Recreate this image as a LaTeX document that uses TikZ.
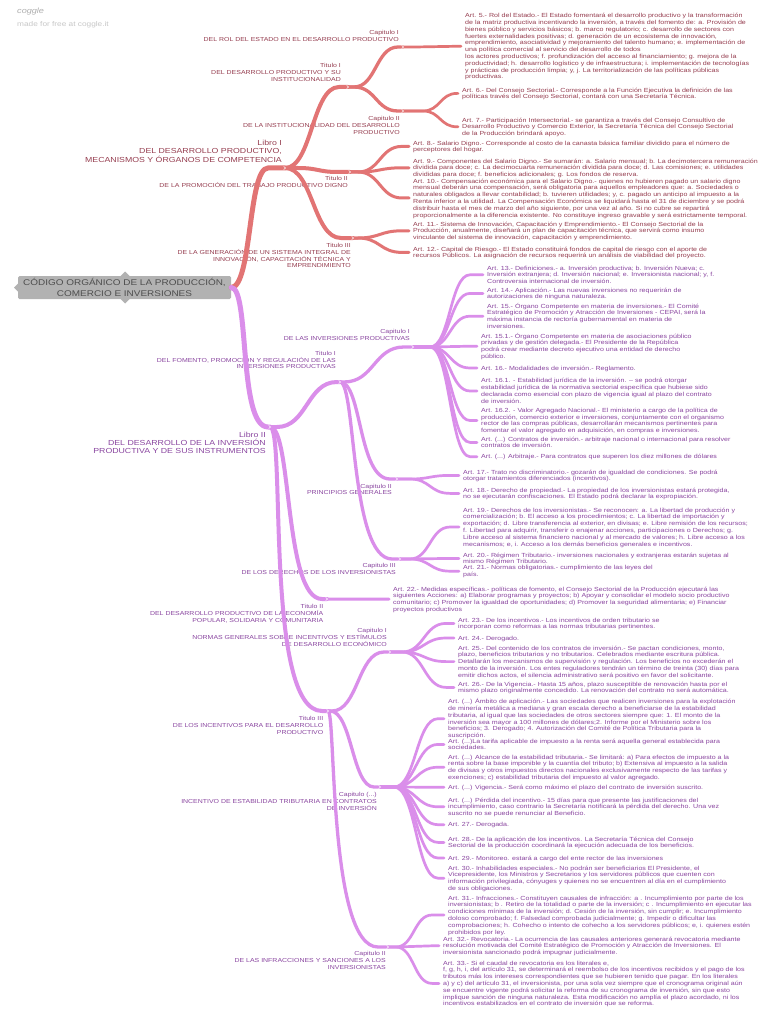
\documentclass[tikz,border=0pt]{standalone}
\usepackage{fontspec}
\usetikzlibrary{calc}
\newfontfamily\cf{Liberation Sans}[FakeStretch=1.2]
\definecolor{redline}{RGB}{226,116,116}
\definecolor{redtext}{RGB}{150,62,80}
\definecolor{purline}{RGB}{218,142,234}
\definecolor{purtext}{RGB}{138,70,160}
\definecolor{rootfill}{RGB}{178,178,178}
\definecolor{roottext}{RGB}{78,78,78}
\definecolor{logogray}{RGB}{175,175,175}
\definecolor{madegray}{RGB}{200,200,200}
\newcommand\artfont{\cf\fontsize{5.9pt}{6.8pt}\selectfont\lineskiplimit=-5pt\relax}
\newcommand\labfont{\cf\fontsize{5.8pt}{6.9pt}\selectfont\lineskiplimit=-5pt\relax}
\newcommand\bigfont{\cf\fontsize{7.3pt}{8.3pt}\selectfont\lineskiplimit=-5pt\relax}
\newcommand\rootfont{\cf\fontsize{8.3pt}{10.3pt}\selectfont}
\newcommand\ntx[1]{\rule{0pt}{.95em}#1\rule[-.25em]{0pt}{0pt}}
% connector: style, from, to, mid x, half width
\newcommand\conn[5]{\draw[#1] let \p1=(#2), \p2=(#3) in (\p1) -- ({(#4-#5)*1pt},\y1) .. controls ({#4*1pt},\y1) and ({#4*1pt},\y2) .. ({(#4+#5)*1pt},\y2) -- (\p2);}
% connector: style, from, to, control x 1, control x 2, end x of curve
\newcommand\connc[6]{\draw[#1] let \p1=(#2), \p2=(#3) in (\p1) .. controls ({#4*1pt},\y1) and ({#5*1pt},\y2) .. ({#6*1pt},\y2) -- (\p2);}
% small white chevron on a branch point
\newcommand\chev[1]{\draw[white,line width=0.55pt,line cap=round,line join=round] ($(#1)+(-1.3,-1.5)$) -- ($(#1)+(0.6,0)$) -- ($(#1)+(-1.3,1.5)$);}
\begin{document}
\begin{tikzpicture}[x=1pt,y=-1pt,
  art/.style={anchor=west,inner sep=0pt,align=left,font=\artfont},
  lab/.style={anchor=east,inner sep=0pt,align=right,font=\labfont},
  libro/.style={anchor=east,inner sep=0pt,align=right,font=\bigfont},
  rtx/.style={text=redtext}, ptx/.style={text=purtext},
  r1/.style={draw=redline,line width=5pt,line cap=round},
  r2/.style={draw=redline,line width=4pt,line cap=round},
  r3/.style={draw=redline,line width=3.3pt,line cap=round},
  r3e/.style={draw=redline,line width=3pt,line cap=round,shorten >=4pt},
  r4/.style={draw=redline,line width=2.7pt,line cap=round,shorten >=4pt},
  p1/.style={draw=purline,line width=5pt,line cap=round},
  p2/.style={draw=purline,line width=4pt,line cap=round},
  p3/.style={draw=purline,line width=3.3pt,line cap=round},
  p3e/.style={draw=purline,line width=3pt,line cap=round,shorten >=4pt},
  p4/.style={draw=purline,line width=2.7pt,line cap=round,shorten >=4pt},
  rootbox/.style={fill=rootfill,text=roottext,font=\rootfont,align=center,inner sep=0pt,minimum width=213pt,minimum height=23pt,rounded corners=1.5pt}
]
\useasboundingbox (0,0) rectangle (768,1024);
\fill[white] (0,0) rectangle (768,1024);

% logo
\node[anchor=west,inner sep=0pt,text=logogray,font=\cf\fontsize{7.6pt}{8pt}\selectfont\itshape] (logo) at (17,12) {coggle};
\node[anchor=west,inner sep=0pt,text=madegray,font=\cf\fontsize{6.9pt}{8pt}\selectfont] (made) at (17,25) {made for free at coggle.it};

% root
\fill[rootfill] (120,276.5) -- (125,271.5) -- (130,276.5) -- cycle;
\fill[rootfill] (120,298.5) -- (125,303.5) -- (130,298.5) -- cycle;
\fill[rootfill] (18.5,283) -- (14,287.5) -- (18.5,292) -- cycle;
\node[rootbox] (root) at (124.5,287.5) {CÓDIGO ORGÁNICO DE LA PRODUCCIÓN,\\COMERCIO E INVERSIONES};

% branch points
\coordinate (L1) at (285,168);
\coordinate (T1) at (348,87);
\coordinate (T2) at (350,172);
\coordinate (T3) at (353,238);
\coordinate (C1) at (403,47);
\coordinate (C2) at (403,111);
\coordinate (L2) at (270,427);
\coordinate (PT1) at (340,382);
\coordinate (PT2) at (327,599);
\coordinate (PT3) at (328,711);
\coordinate (PC1) at (413,347);
\coordinate (PC2) at (397,479);
\coordinate (PC3) at (400,559);
\coordinate (PC4) at (390,652);
\coordinate (PC5) at (380,787);
\coordinate (PC6) at (388,947);

% ---------- red labels ----------
\node[lab,rtx] (lC1) at (399,35.9) {\ntx{Capitulo I\\DEL ROL DEL ESTADO EN EL DESARROLLO PRODUCTIVO}};
\node[lab,rtx] (lT1) at (341,72.4) {\ntx{Titulo I\\DEL DESARROLLO PRODUCTIVO Y SU\\INSTITUCIONALIDAD}};
\node[lab,rtx] (lC2) at (400,125.3) {\ntx{Capitulo II\\DE LA INSTITUCIONALIDAD DEL DESARROLLO\\PRODUCTIVO}};
\node[libro,rtx] (lL1) at (282,151.4) {\ntx{Libro I\\DEL DESARROLLO PRODUCTIVO,\\MECANISMOS Y ÓRGANOS DE COMPETENCIA}};
\node[lab,rtx] (lT2) at (348,182.3) {\ntx{Titulo II\\DE LA PROMOCIÓN DEL TRABAJO PRODUCTIVO DIGNO}};
\node[lab,rtx] (lT3) at (351,255.6) {\ntx{Titulo III\\DE LA GENERACIÓN DE UN SISTEMA INTEGRAL DE\\INNOVACIÓN, CAPACITACIÓN TÉCNICA Y\\EMPRENDIMIENTO}};

% ---------- red articles ----------
\node[art,rtx] (a5) at (465,46.3) {\ntx{Art. 5.- Rol del Estado.- El Estado fomentará el desarrollo productivo y la transformación\\
de la matriz productiva incentivando la inversión, a través del fomento de: a. Provisión de\\
bienes público y servicios básicos; b. marco regulatorio; c. desarrollo de sectores con\\
fuertes externalidades positivas; d. generación de un ecosistema de innovación,\\
emprendimiento, asociatividad y mejoramiento del talento humano; e. implementación de\\
una política comercial al servicio del desarrollo de todos\\
los actores productivos; f. profundización del acceso al financiamiento; g. mejora de la\\
productividad; h. desarrollo logístico y de infraestructura; i. implementación de tecnologías\\
y prácticas de producción limpia; y, j. La territorialización de las políticas públicas\\
productivas.}};
\node[art,rtx] (a6) at (462,93.4) {\ntx{Art. 6.- Del Consejo Sectorial.- Corresponde a la Función Ejecutiva la definición de las\\
políticas través del Consejo Sectorial, contará con una Secretaría Técnica.}};
\node[art,rtx] (a7) at (462,126.8) {\ntx{Art. 7.- Participación Intersectorial.- se garantiza a través del Consejo Consultivo de\\
Desarrollo Productivo y Comercio Exterior, la Secretaría Técnica del Consejo Sectorial\\
de la Producción brindará apoyo.}};
\node[art,rtx] (a8) at (413,146.4) {\ntx{Art. 8.- Salario Digno.- Corresponde al costo de la canasta básica familiar dividido para el número de\\
perceptores del hogar.}};
\node[art,rtx] (a9) at (413,167.8) {\ntx{Art. 9.- Componentes del Salario Digno.- Se sumarán: a. Salario mensual; b. La decimotercera remuneración\\
dividida para doce; c. La decimocuarta remuneración dividida para doce; d. Las comisiones; e. utilidades\\
divididas para doce; f. beneficios adicionales; g. Los fondos de reserva.}};
\node[art,rtx] (a10) at (413,198) {\ntx{Art. 10.- Compensación económica para el Salario Digno.- quienes no hubieren pagado un salario digno\\
mensual deberán una compensación, será obligatoria para aquellos empleadores que: a. Sociedades o\\
naturales obligados a llevar contabilidad; b. tuvieren utilidades; y, c. pagado un anticipo al impuesto a la\\
Renta inferior a la utilidad. La Compensación Económica se liquidará hasta el 31 de diciembre y se podrá\\
distribuir hasta el mes de marzo del año siguiente, por una vez al año. Si no cubre se repartirá\\
proporcionalmente a la diferencia existente. No constituye ingreso gravable y será estrictamente temporal.}};
\node[art,rtx] (a11) at (413,230.8) {\ntx{Art. 11.- Sistema de Innovación, Capacitación y Emprendimiento.- El Consejo Sectorial de la\\
Producción, anualmente, diseñará un plan de capacitación técnica, que servirá como insumo\\
vinculante del sistema de innovación, capacitación y emprendimiento.}};
\node[art,rtx] (a12) at (413,252.4) {\ntx{Art. 12.- Capital de Riesgo.- El Estado constituirá fondos de capital de riesgo con el aporte de\\
recursos Públicos. La asignación de recursos requerirá un análisis de viabilidad del proyecto.}};

% ---------- purple labels ----------
\node[lab,ptx] (lPC1) at (410,334.7) {\ntx{Capitulo I\\DE LAS INVERSIONES PRODUCTIVAS}};
\node[lab,ptx] (lPT1) at (336,360) {\ntx{Titulo I\\DEL FOMENTO, PROMOCIÓN Y REGULACIÓN DE LAS\\INVERSIONES PRODUCTIVAS}};
\node[libro,ptx] (lL2) at (266,443) {\ntx{Libro II\\DEL DESARROLLO DE LA INVERSIÓN\\PRODUCTIVA Y DE SUS INSTRUMENTOS}};
\node[lab,ptx] (lPC2) at (392,489.5) {\ntx{Capitulo II\\PRINCIPIOS GENERALES}};
\node[lab,ptx] (lPC3) at (396,569.3) {\ntx{Capitulo III\\DE LOS DERECHOS DE LOS INVERSIONISTAS}};
\node[lab,ptx] (lPT2) at (323.5,613.6) {\ntx{Titulo II\\DEL DESARROLLO PRODUCTIVO DE LA ECONOMÍA\\POPULAR, SOLIDARIA Y COMUNITARIA}};
\node[lab,ptx] (lPC4) at (387,637.3) {\ntx{Capitulo I\\NORMAS GENERALES SOBRE INCENTIVOS Y ESTÍMULOS\\DE DESARROLLO ECONÓMICO}};
\node[lab,ptx] (lPT3) at (323.5,725.3) {\ntx{Titulo III\\DE LOS INCENTIVOS PARA EL DESARROLLO\\PRODUCTIVO}};
\node[lab,ptx] (lPC5) at (377,801.4) {\ntx{Capitulo (...)\\INCENTIVO DE ESTABILIDAD TRIBUTARIA EN CONTRATOS\\DE INVERSIÓN}};
\node[lab,ptx] (lPC6) at (386,960.7) {\ntx{Capitulo II\\DE LAS INFRACCIONES Y SANCIONES A LOS\\INVERSIONISTAS}};

% ---------- purple articles ----------
\node[art,ptx] (a13) at (487,274.8) {\ntx{Art. 13.- Definiciones.- a. Inversión productiva; b. Inversión Nueva; c.\\
Inversión extranjera; d. Inversión nacional; e. Inversionista nacional; y, f.\\
Controversia internacional de inversión.}};
\node[art,ptx] (a14) at (487,293.4) {\ntx{Art. 14.- Aplicación.- Las nuevas inversiones no requerirán de\\
autorizaciones de ninguna naturaleza.}};
\node[art,ptx] (a15) at (487,316.2) {\ntx{Art. 15.- Órgano Competente en materia de inversiones.- El Comité\\
Estratégico de Promoción y Atracción de Inversiones - CEPAI, será la\\
máxima instancia de rectoría gubernamental en materia de\\
inversiones.}};
\node[art,ptx] (a151) at (481,346.2) {\ntx{Art. 15.1.- Órgano Competente en materia de asociaciones público\\
privadas y de gestión delegada.- El Presidente de la República\\
podrá crear mediante decreto ejecutivo una entidad de derecho\\
público.}};
\node[art,ptx] (a16) at (481,368) {\ntx{Art. 16.- Modalidades de inversión.- Reglamento.}};
\node[art,ptx] (a161) at (481,391) {\ntx{Art. 16.1. - Estabilidad jurídica de la inversión. – se podrá otorgar\\
estabilidad jurídica de la normativa sectorial específica que hubiese sido\\
declarada como esencial con plazo de vigencia igual al plazo del contrato\\
de inversión.}};
\node[art,ptx] (a162) at (481,420.5) {\ntx{Art. 16.2. - Valor Agregado Nacional.- El ministerio a cargo de la política de\\
producción, comercio exterior e inversiones, conjuntamente con el organismo\\
rector de las compras públicas, desarrollarán mecanismos pertinentes para\\
fomentar el valor agregado en adquisición, en compras e inversiones.}};
\node[art,ptx] (acon) at (481,442.4) {\ntx{Art. (...) Contratos de inversión.- arbitraje nacional o internacional para resolver\\
contratos de inversión.}};
\node[art,ptx] (aarb) at (481,456.7) {\ntx{Art. (...) Arbitraje.- Para contratos que superen los diez millones de dólares}};
\node[art,ptx] (a17) at (463,475.4) {\ntx{Art. 17.- Trato no discriminatorio.- gozarán de igualdad de condiciones. Se podrá\\
otorgar tratamientos diferenciados (incentivos).}};
\node[art,ptx] (a18) at (463,493.4) {\ntx{Art. 18.- Derecho de propiedad.- La propiedad de los inversionistas estará protegida,\\
no se ejecutarán confiscaciones. El Estado podrá declarar la expropiación.}};
\node[art,ptx] (a19) at (463,527) {\ntx{Art. 19.- Derechos de los inversionistas.- Se reconocen: a. La libertad de producción y\\
comercialización; b. El acceso a los procedimientos; c. La libertad de importación y\\
exportación; d. Libre transferencia al exterior, en divisas; e. Libre remisión de los recursos;\\
f. Libertad para adquirir, transferir o enajenar acciones, participaciones o Derechos; g.\\
Libre acceso al sistema financiero nacional y al mercado de valores; h. Libre acceso a los\\
mecanismos; e, i. Acceso a los demás beneficios generales e incentivos.}};
\node[art,ptx] (a20) at (463,558.4) {\ntx{Art. 20.- Régimen Tributario.- inversiones nacionales y extranjeras estarán sujetas al\\
mismo Régimen Tributario.}};
\node[art,ptx] (a21) at (463,571.2) {\ntx{Art. 21.- Normas obligatorias.- cumplimiento de las leyes del\\
país.}};
\node[art,ptx] (a22) at (393,599.2) {\ntx{Art. 22.- Medidas específicas.- políticas de fomento, el Consejo Sectorial de la Producción ejecutará las\\
siguientes Acciones: a) Elaborar programas y proyectos; b) Apoyar y consolidar el modelo socio productivo\\
comunitario; c) Promover la igualdad de oportunidades; d) Promover la seguridad alimentaria; e) Financiar\\
proyectos productivos}};
\node[art,ptx] (a23) at (458,623.4) {\ntx{Art. 23.- De los incentivos.- Los incentivos de orden tributario se\\
incorporan como reformas a las normas tributarias pertinentes.}};
\node[art,ptx] (a24) at (458,638) {\ntx{Art. 24.- Derogado.}};
\node[art,ptx] (a25) at (458,661.6) {\ntx{Art. 25.- Del contenido de los contratos de inversión.- Se pactan condiciones, monto,\\
plazo, beneficios tributarios y no tributarios. Celebrados mediante escritura pública.\\
Detallarán los mecanismos de supervisión y regulación. Los beneficios no excederán el\\
monto de la inversión. Los entes reguladores tendrán un término de treinta (30) días para\\
emitir dichos actos, el silencia administrativo será positivo en favor del solicitante.}};
\node[art,ptx] (a26) at (458,687.4) {\ntx{Art. 26.- De la Vigencia.- Hasta 15 años, plazo susceptible de renovación hasta por el\\
mismo plazo originalmente concedido. La renovación del contrato no será automática.}};
\node[art,ptx] (aamb) at (448,718.7) {\ntx{Art. (...) Ámbito de aplicación.- Las sociedades que realicen inversiones para la explotación\\
de minería metálica a mediana y gran escala derecho a beneficiarse de la estabilidad\\
tributaria, al igual que las sociedades de otros sectores siempre que: 1. El monto de la\\
inversión sea mayor a 100 millones de dólares;2. Informe por el Ministerio sobre los\\
beneficios; 3. Derogado; 4. Autorización del Comité de Política Tributaria para la\\
suscripción.}};
\node[art,ptx] (atar) at (448,744.4) {\ntx{Art. (...)La tarifa aplicable de impuesto a la renta será aquella general establecida para\\
sociedades.}};
\node[art,ptx] (aalc) at (448,767.2) {\ntx{Art. (...) Alcance de la estabilidad tributaria.- Se limitará: a) Para efectos de impuesto a la\\
renta sobre la base imponible y la cuantía del tributo; b) Extensiva al impuesto a la salida\\
de divisas y otros impuestos directos nacionales exclusivamente respecto de las tarifas y\\
exenciones; c) estabilidad tributaria del impuesto al valor agregado.}};
\node[art,ptx] (avig) at (448,787.3) {\ntx{Art. (...) Vigencia.- Será como máximo el plazo del contrato de inversión suscrito.}};
\node[art,ptx] (aper) at (448,806.8) {\ntx{Art. (...) Pérdida del incentivo.- 15 días para que presente las justificaciones del\\
incumplimiento, caso contrario la Secretaría notificará la pérdida del derecho. Una vez\\
suscrito no se puede renunciar al Beneficio.}};
\node[art,ptx] (a27) at (448,824.7) {\ntx{Art. 27.- Derogada.}};
\node[art,ptx] (a28) at (448,842.4) {\ntx{Art. 28.- De la aplicación de los incentivos. La Secretaría Técnica del Consejo\\
Sectorial de la producción coordinará la ejecución adecuada de los beneficios.}};
\node[art,ptx] (a29) at (448,858) {\ntx{Art. 29.- Monitoreo. estará a cargo del ente rector de las inversiones}};
\node[art,ptx] (a30) at (448,878.2) {\ntx{Art. 30.- Inhabilidades especiales.- No podrán ser beneficiarios El Presidente, el\\
Vicepresidente, los Ministros y Secretarios y los servidores públicos que cuenten con\\
información privilegiada, cónyuges y quienes no se encuentren al día en el cumplimiento\\
de sus obligaciones.}};
\node[art,ptx] (a31) at (448,915) {\ntx{Art. 31.- Infracciones.- Constituyen causales de infracción: a . Incumplimiento por parte de los\\
inversionistas; b . Retiro de la totalidad o parte de la inversión; c . Incumplimiento en ejecutar las\\
condiciones mínimas de la inversión; d. Cesión de la inversión, sin cumplir; e. Incumplimiento\\
doloso comprobado; f. Falsedad comprobada judicialmente; g. Impedir o dificultar las\\
comprobaciones; h. Cohecho o intento de cohecho a los servidores públicos; e, i. quienes estén\\
prohibidos por ley.}};
\node[art,ptx] (a32) at (443,945.8) {\ntx{Art. 32.- Revocatoria.- La ocurrencia de las causales anteriores generará revocatoria mediante\\
resolución motivada del Comité Estratégico de Promoción y Atracción de Inversiones. El\\
inversionista sancionado podrá impugnar judicialmente.}};
\node[art,ptx] (a33) at (443,983.4) {\ntx{Art. 33.- Si el caudal de revocatoria es los literales e,\\
f, g, h, i, del artículo 31, se determinará el reembolso de los incentivos recibidos y el pago de los\\
tributos más los intereses correspondientes que se hubieren tenido que pagar. En los literales\\
a) y c) del artículo 31, el inversionista, por una sola vez siempre que el cronograma original aún\\
se encuentre vigente podrá solicitar la reforma de su cronograma de inversión, sin que esto\\
implique sanción de ninguna naturaleza. Esta modificación no amplía el plazo acordado, ni los\\
incentivos estabilizados en el contrato de inversión que se reforma.}};

% ---------- red connectors ----------
\connc{r1}{root.east}{L1}{252}{248}{268}
\conn{r2}{L1}{T1}{312}{27}
\conn{r2}{L1}{T2}{318}{20}
\conn{r2}{L1}{T3}{313}{28}
\conn{r3}{T1}{C1}{376}{22}
\conn{r3}{T1}{C2}{376}{22}
\conn{r4}{C1}{a5.west}{435}{20}
\conn{r4}{C2}{a6.west}{440}{17}
\conn{r4}{C2}{a7.west}{440}{17}
\foreach \nm in {a8,a9,a10} {\conn{r3e}{T2}{\nm.west}{380}{22}}
\foreach \nm in {a11,a12} {\conn{r3e}{T3}{\nm.west}{380}{22}}

% ---------- purple connectors ----------
\connc{p1}{root.east}{L2}{250}{238}{268}
\conn{p2}{L2}{PT1}{307}{30}
\connc{p2}{L2}{PT2}{292}{284}{322}
\connc{p2}{L2}{PT3}{286}{264}{322}
\conn{p3}{PT1}{PC1}{374}{30}
\connc{p3}{PT1}{PC2}{362}{358}{390}
\connc{p3}{PT1}{PC3}{356}{350}{392}
\foreach \nm in {a13,a14,a15,a151,a16,a161,a162,acon,aarb} {\conn{p4}{PC1}{\nm.west}{450}{20}}
\foreach \nm in {a17,a18} {\conn{p4}{PC2}{\nm.west}{430}{20}}
\foreach \nm in {a19,a20,a21} {\conn{p4}{PC3}{\nm.west}{430}{20}}
\conn{p3e}{PT2}{a22.west}{360}{20}
\conn{p3}{PT3}{PC4}{358}{26}
\conn{p3}{PT3}{PC5}{352}{22}
\connc{p3}{PT3}{PC6}{336}{328}{378}
\foreach \nm in {a23,a24,a25,a26} {\conn{p4}{PC4}{\nm.west}{424}{22}}
\foreach \nm in {aamb,atar,aalc,avig,aper,a27,a28,a29,a30} {\conn{p4}{PC5}{\nm.west}{416}{22}}
\foreach \nm in {a31,a32,a33} {\conn{p4}{PC6}{\nm.west}{414}{18}}

% ---------- chevrons on branch points ----------
\foreach \cp in {L1,T1,T2,T3,C1,C2,L2,PT1,PT2,PT3,PC1,PC2,PC3,PC4,PC5,PC6} {\chev{\cp}}
\end{tikzpicture}
\end{document}
